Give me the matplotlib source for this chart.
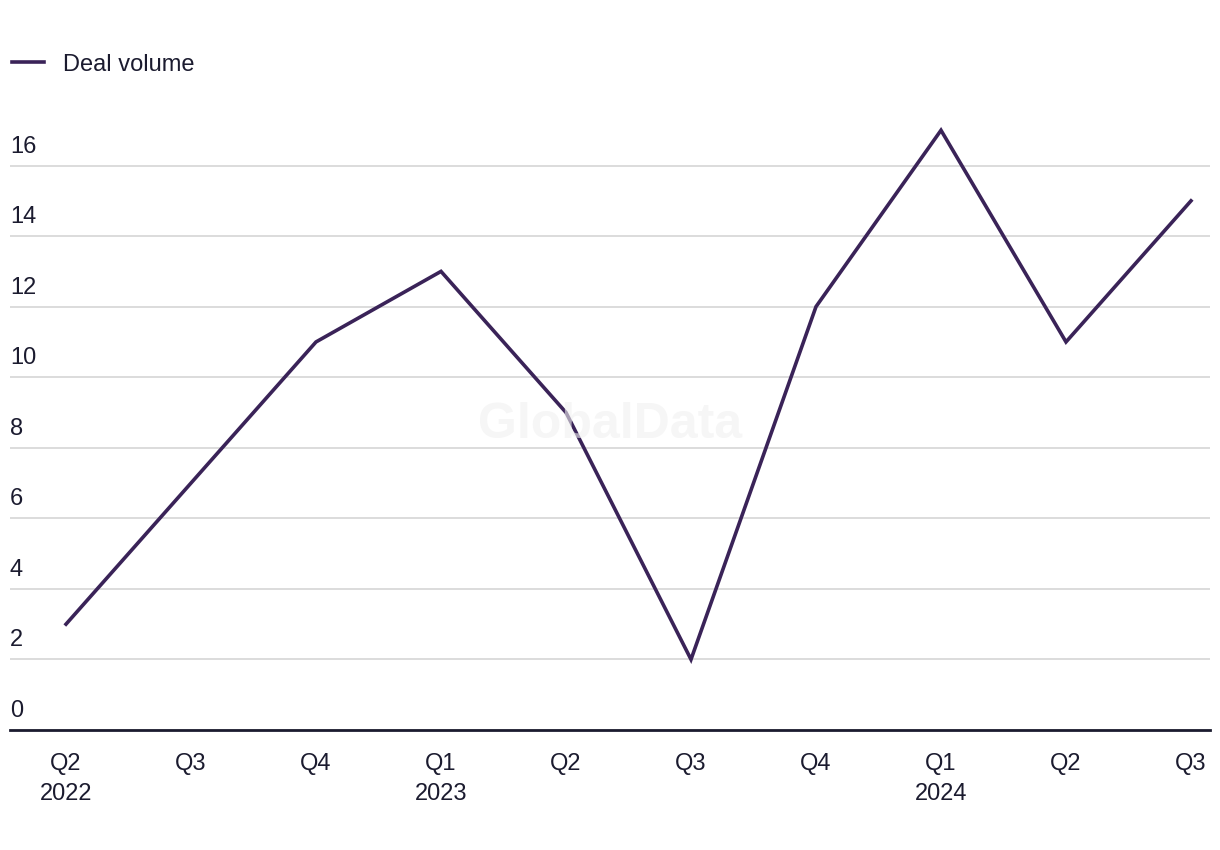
import matplotlib
matplotlib.use("Agg")
import matplotlib.pyplot as plt
import matplotlib.transforms as mtransforms

quarters = ["Q2\n2022", "Q3", "Q4", "Q1\n2023", "Q2", "Q3", "Q4", "Q1\n2024", "Q2", "Q3"]
deal_volume = [3, 7, 11, 13, 9, 2, 12, 17, 11, 15]
y_ticks = [0, 2, 4, 6, 8, 10, 12, 14, 16]

LINE = "#3a2358"
TEXT = "#1b1b2f"
GRID = "#d9d9d9"

plt.rcParams["font.family"] = ["Liberation Sans", "DejaVu Sans"]

fig = plt.figure(figsize=(12.2, 8.5), dpi=100)
ax = fig.add_axes([10 / 1220, 120 / 850, 1200 / 1220, (730 - 95) / 850])

x = list(range(len(quarters)))
ax.plot(x, deal_volume, color=LINE, linewidth=2.6, solid_joinstyle="miter", zorder=3,
        label="Deal volume")

ax.set_xlim(-0.448, len(quarters) - 1 + 0.152)
ax.set_ylim(0, 18)

for s in ["top", "right", "left"]:
    ax.spines[s].set_visible(False)
ax.spines["bottom"].set_color(TEXT)
ax.spines["bottom"].set_linewidth(2)

ax.set_yticks(y_ticks)
ax.set_yticklabels([])
ax.tick_params(axis="y", length=0)
ax.yaxis.grid(True, color=GRID, linewidth=1.3)
ax.set_axisbelow(True)

trans = mtransforms.blended_transform_factory(ax.transAxes, ax.transData)
offset = mtransforms.ScaledTranslation(0, 19 / 100, fig.dpi_scale_trans)
for v in y_ticks:
    ax.text(0, v, str(v), transform=trans + offset, ha="left", va="center",
            fontsize=17, color=TEXT)

ax.set_xticks(x)
ax.set_xticklabels(quarters, fontsize=17, color=TEXT, linespacing=1.45)
ax.tick_params(axis="x", length=0, pad=16.5)

leg = ax.legend(loc="upper left", bbox_to_anchor=(-0.006, 1.08), frameon=False,
                fontsize=17, handlelength=1.35, handletextpad=0.8, borderaxespad=0)
for t in leg.get_texts():
    t.set_color(TEXT)

fig.text(610 / 1220, 1 - 425 / 850, "GlobalData", ha="center", va="center",
         fontsize=36, fontweight="bold", color="#f0f0f0", alpha=0.6, zorder=5)

fig.savefig("out.png", dpi=100, facecolor="white")
